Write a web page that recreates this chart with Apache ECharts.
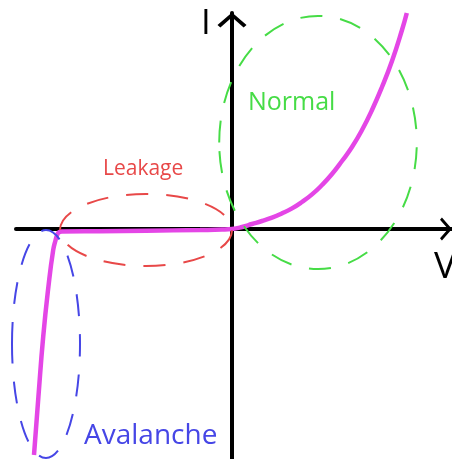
<!DOCTYPE html>
<html>
<head>
<meta charset="utf-8">
<script src="https://cdn.jsdelivr.net/npm/echarts@6/dist/echarts.min.js"></script>
<style>
	html, body { margin: 0; padding: 0; background: #fff; }
	#main { width: 452px; height: 459px; }
</style>
</head>
<body>
<div id="main"></div>
<script type="text/javascript">
	// diode I-V curve, [V, I] in arbitrary units
	var curveV = [-4.95, -4.84, -4.72, -4.59, -4.47, -4.41, -4.375, -4.33, -4.25, -3.3, -2.15, -0.8, -0.25,
		0, 0.25, 0.5, 0.75, 1.0, 1.25, 1.5, 1.75, 2.0, 2.25, 2.5, 2.75, 3.0, 3.25, 3.5, 3.75, 4.0, 4.25, 4.37];
	var curveI = [-11.3, -8.39, -5.39, -2.89, -1.05, -0.55, -0.32, -0.17, -0.13, -0.11, -0.085, -0.05, -0.03,
		0, 0.1, 0.25, 0.4, 0.57, 0.78, 1.03, 1.35, 1.73, 2.2, 2.75, 3.4, 4.1, 4.95, 5.95, 7.1, 8.4, 9.95, 10.8];

	// regions drawn as dashed ellipses: centre and radii in the same units
	var regionNames = ['Normal', 'Leakage', 'Avalanche'];
	var regionCx = [2.15, -2.15, -4.65];
	var regionCy = [4.325, -0.05, -5.75];
	var regionRx = [2.47, 2.15, 0.85];
	var regionRy = [6.33, 1.8, 5.7];
	var regionColors = ['#46dc46', '#e84848', '#4646e6'];

	var curveData = curveV.map(function (v, i) { return [v, curveI[i]]; });
	var regionData = regionNames.map(function (n, i) {
		return [regionCx[i], regionCy[i], regionRx[i], regionRy[i], i];
	});

	var chevron = 'path://M15,0 L30,13 L27,15.5 L15,5 L3,15.5 L0,13 Z';
	var family = 'Open Sans';

	function label(text, x, y, size, color) {
		return {
			type: 'text', x: x, y: y,
			style: { text: text, fontSize: size, fontFamily: family, fill: color, align: 'left', verticalAlign: 'middle' }
		};
	}

	var myChart = echarts.init(document.getElementById('main'), null, { renderer: 'canvas' });
	var option = {
		animation: false,
		backgroundColor: '#fff',
		grid: { left: 16, right: 0, top: 13, bottom: 0 },
		xAxis: {
			type: 'value',
			min: -5.4,
			max: 5.5,
			axisLine: {
				onZero: true,
				symbol: ['none', chevron],
				symbolSize: [24, 12],
				symbolOffset: [0, -6],
				lineStyle: { color: '#000', width: 4 }
			},
			axisTick: { show: false },
			axisLabel: { show: false },
			splitLine: { show: false }
		},
		yAxis: {
			type: 'value',
			min: -11.5,
			max: 10.8,
			axisLine: {
				onZero: true,
				symbol: ['none', chevron],
				symbolSize: [30, 15],
				symbolOffset: [0, -7],
				lineStyle: { color: '#000', width: 4 }
			},
			axisTick: { show: false },
			axisLabel: { show: false },
			splitLine: { show: false }
		},
		series: [
			{
				type: 'line',
				data: curveData,
				smooth: 0.5,
				showSymbol: false,
				clip: false,
				z: 2,
				lineStyle: { color: '#e446e6', width: 4.5 }
			},
			{
				type: 'custom',
				data: regionData,
				clip: false,
				z: 3,
				renderItem: function (params, api) {
					var c = api.coord([api.value(0), api.value(1)]);
					var s = api.size([api.value(2), api.value(3)]);
					return {
						type: 'ellipse',
						shape: { cx: c[0], cy: c[1], rx: s[0], ry: s[1] },
						style: {
							fill: 'none',
							stroke: regionColors[api.value(4)],
							lineWidth: 2,
							lineDash: [22, 18]
						}
					};
				}
			}
		],
		graphic: [
			label('I', 201, 24, 35, '#000'),
			label('V', 434, 267, 37, '#000'),
			label('Normal', 248, 103, 25, regionColors[0]),
			label('Leakage', 103, 169, 21, regionColors[1]),
			label('Avalanche', 84, 436, 28, regionColors[2])
		]
	};
	myChart.setOption(option);
</script>
</body>
</html>
